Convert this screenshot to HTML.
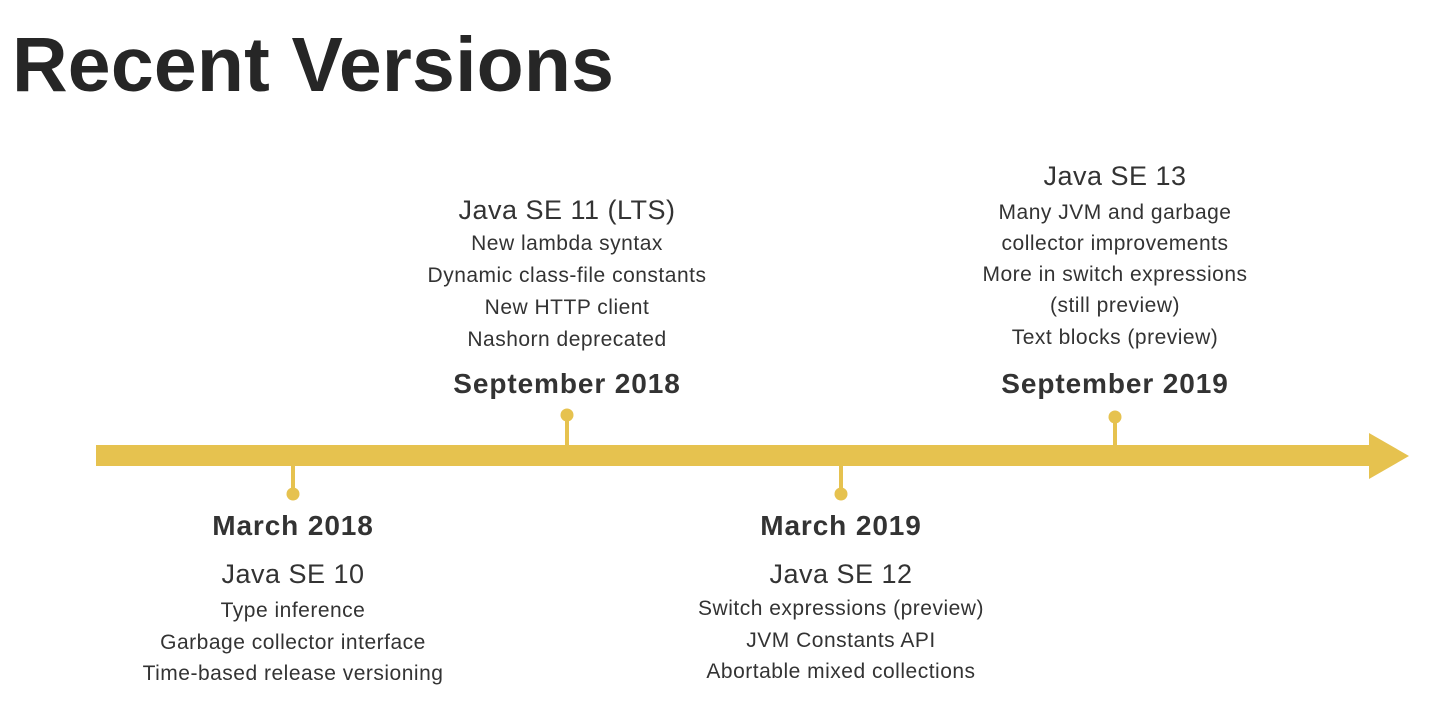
<!DOCTYPE html>
<html><head><style>
body{margin:0;width:1440px;height:711px;background:#fff;overflow:hidden;position:relative;font-family:"Liberation Sans",sans-serif;color:#333}
.t{position:absolute;width:600px;text-align:center;white-space:nowrap;height:30px;line-height:30px}
.h{font-size:27px;letter-spacing:0.5px}
.i{font-size:21px;letter-spacing:0.5px}
.d{font-size:28px;font-weight:bold;letter-spacing:0.9px}
</style></head><body>
<div style="position:absolute;left:12px;top:20px;font-size:77px;font-weight:bold;color:#262626;line-height:90px;letter-spacing:0.2px">Recent Versions</div>
<svg width="1440" height="711" style="position:absolute;left:0;top:0">
<g fill="#e6c24f" stroke="none">
<rect x="96" y="445" width="1275" height="21"/>
<polygon points="1369,433 1409,456 1369,479"/>
<rect x="565" y="415" width="4" height="32"/><circle cx="567" cy="415" r="6.5"/>
<rect x="1113" y="417" width="4" height="30"/><circle cx="1115" cy="417" r="6.5"/>
<rect x="291" y="464" width="4" height="30"/><circle cx="293" cy="494" r="6.5"/>
<rect x="839" y="464" width="4" height="30"/><circle cx="841" cy="494" r="6.5"/>
</g></svg>
<div class="t h" style="left:267px;top:195px">Java SE 11 (LTS)</div>
<div class="t i" style="left:267px;top:229px">New lambda syntax</div>
<div class="t i" style="left:267px;top:261px">Dynamic class-file constants</div>
<div class="t i" style="left:267px;top:293px">New HTTP client</div>
<div class="t i" style="left:267px;top:325px">Nashorn deprecated</div>
<div class="t d" style="left:267px;top:369px">September 2018</div>

<div class="t h" style="left:815px;top:161px">Java SE 13</div>
<div class="t i" style="left:815px;top:198px">Many JVM and garbage</div>
<div class="t i" style="left:815px;top:229px">collector improvements</div>
<div class="t i" style="left:815px;top:260px">More in switch expressions</div>
<div class="t i" style="left:815px;top:291px">(still preview)</div>
<div class="t i" style="left:815px;top:323px">Text blocks (preview)</div>
<div class="t d" style="left:815px;top:369px">September 2019</div>

<div class="t d" style="left:-7px;top:511px">March 2018</div>
<div class="t h" style="left:-7px;top:559px">Java SE 10</div>
<div class="t i" style="left:-7px;top:596px">Type inference</div>
<div class="t i" style="left:-7px;top:628px">Garbage collector interface</div>
<div class="t i" style="left:-7px;top:659px">Time-based release versioning</div>

<div class="t d" style="left:541px;top:511px">March 2019</div>
<div class="t h" style="left:541px;top:559px">Java SE 12</div>
<div class="t i" style="left:541px;top:594px">Switch expressions (preview)</div>
<div class="t i" style="left:541px;top:626px">JVM Constants API</div>
<div class="t i" style="left:541px;top:657px">Abortable mixed collections</div>
</body></html>
